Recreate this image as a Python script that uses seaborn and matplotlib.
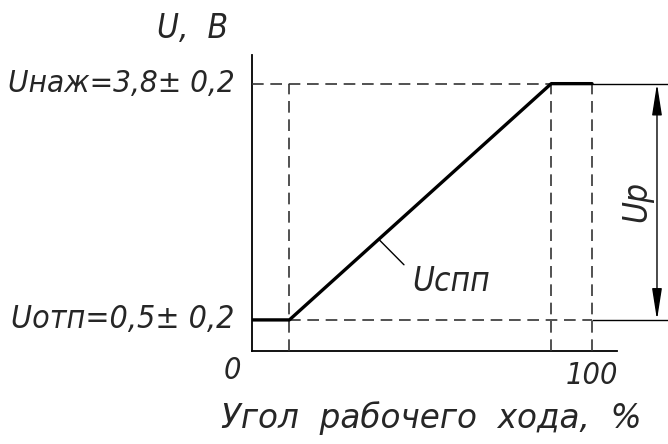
import seaborn as sns, matplotlib.pyplot as plt, numpy as np
import pandas as pd

# characteristic of the sensor (schematic)
stroke_pct = [0, 11, 88, 100]
voltage = [0.5, 0.5, 3.8, 3.8]
u_release = 0.5
u_press = 3.8
tol = 0.2
tick_pos = [0, 100]
tick_labels = ["0", "100"]

sns.set_theme(style="white")
plt.rcParams['font.family'] = ['DejaVu Sans']
plt.rcParams['font.style'] = 'italic'
plt.rcParams['font.stretch'] = 'condensed'

fig = plt.figure(figsize=(6.68, 4.44), dpi=100)
ax = fig.add_axes([0.3772, 0.2095, 0.5465, 0.6666])
xmax, ymin, ymax = 107.35, 0.066, 4.2

df = pd.DataFrame({"x": stroke_pct, "u": voltage})
sns.lineplot(data=df, x="x", y="u", ax=ax, color="black", lw=2.4, zorder=5)

dash = dict(color="#333333", lw=1.2, linestyles=(0, (7, 4)), zorder=3)
ax.hlines(u_press, 0, stroke_pct[2], **dash)
ax.hlines(u_release, stroke_pct[1], stroke_pct[3], **dash)
ax.vlines([stroke_pct[1], stroke_pct[2], stroke_pct[3]], ymin, u_press, **dash)

# extension lines and dimension arrow
ax.hlines([u_press, u_release], stroke_pct[3], 122.5, color="black", lw=1.0, clip_on=False)
ax.annotate("", xy=(119.1, u_press), xytext=(119.1, u_release),
            arrowprops=dict(arrowstyle="<|-|>,head_length=1.6,head_width=0.25",
                            color="black", lw=1.0, shrinkA=0, shrinkB=0),
            annotation_clip=False)
ax.text(113.2, 2.15, "Up", rotation=90, fontsize=24, ha="center", va="center", clip_on=False)

# curve label
ax.plot([37.4, 44.7], [1.62, 1.27], color="black", lw=1.0)
ax.text(47, 1.03, "Uспп", fontsize=24, ha="left", va="center")

ax.set_xlim(0, xmax)
ax.set_ylim(ymin, ymax)
ax.set_xticks([])
ax.set_yticks([])
ax.set_xlabel("")
ax.set_ylabel("")
for s in ["top", "right"]:
    ax.spines[s].set_visible(False)
for s in ["left", "bottom"]:
    ax.spines[s].set_color("black")
    ax.spines[s].set_linewidth(1.3)

ax.text(-5.0, u_press, f"Uнаж={u_press:.1f}± {tol:.1f}".replace(".", ","), fontsize=22.5,
        ha="right", va="center", clip_on=False)
ax.text(-5.0, u_release, f"Uотп={u_release:.1f}± {tol:.1f}".replace(".", ","), fontsize=23,
        ha="right", va="center", clip_on=False)
ax.text(-5.8, ymin - 0.27, tick_labels[0], fontsize=22, ha="center", va="center", clip_on=False)
ax.text(tick_pos[1], ymin - 0.34, tick_labels[1], fontsize=22, ha="center", va="center", clip_on=False)
fig.text(0.288, 0.935, "U,  B", fontsize=24, ha="center", va="center")
fig.text(0.646, 0.058, "Угол  рабочего  хода,  %", fontsize=23.5, ha="center", va="center",
         fontstretch="normal")

fig.savefig("out.png", dpi=100)
